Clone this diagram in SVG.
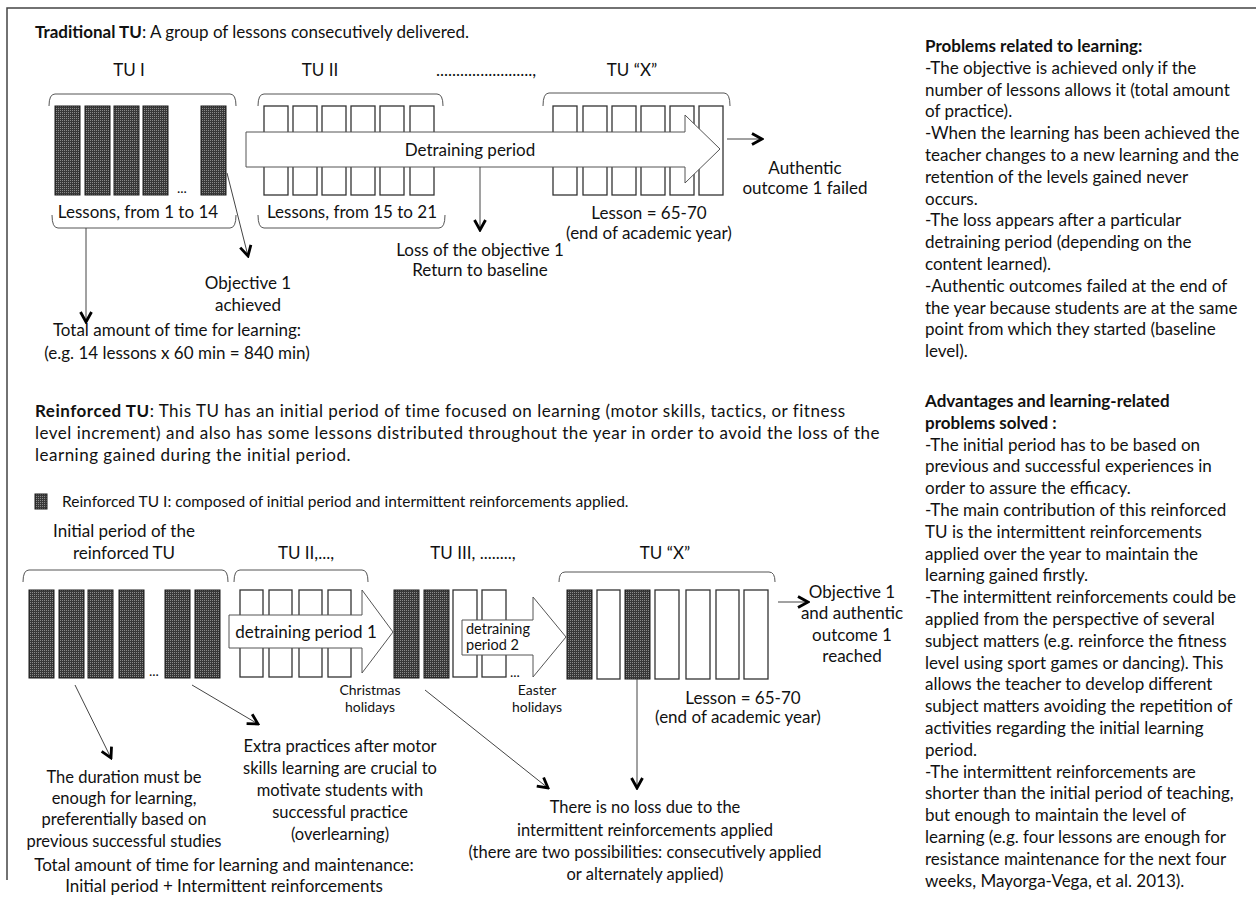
<svg xmlns="http://www.w3.org/2000/svg" width="1256" height="906" viewBox="0 0 1256 906">
<defs>
<pattern id="hatch" width="2" height="2" patternUnits="userSpaceOnUse">
<rect width="2" height="2" fill="#383838"/>
<rect width="1" height="1" fill="#8a8a8a"/>
</pattern>
<marker id="chev" viewBox="0 0 14 14" refX="12" refY="7" markerWidth="14" markerHeight="14" markerUnits="userSpaceOnUse" orient="auto">
<path d="M2,1.5 L12,7 L2,12.5" fill="none" stroke="#000" stroke-width="2.8"/>
</marker>
<style>
text{font-family:Lato,"Liberation Sans",sans-serif;font-size:17px;fill:#111}
.c{text-anchor:middle}
.b{font-weight:bold}
.s{font-size:14px}
.m{font-size:16.5px}
.p{letter-spacing:0.5px}
.dark{fill:url(#hatch);stroke:#1a1a1a;stroke-width:1}
.white{fill:#fff;stroke:#333;stroke-width:1.3}
.brk{fill:none;stroke:#555;stroke-width:1}
.big{fill:#fff;stroke:#555;stroke-width:1}
.con{stroke:#444;stroke-width:1;fill:none;marker-end:url(#chev)}
</style>
</defs>
<rect width="1256" height="906" fill="#fff"/>
<path d="M7,880 V8 H1256" fill="none" stroke="#444" stroke-width="1.5"/>

<g id="traditional-header">
<text x="35" y="38"><tspan class="b">Traditional TU</tspan>: A group of lessons consecutively delivered.</text>
</g>

<g id="tu1-top">
<text class="c" x="129" y="76">TU I</text>
<path class="brk" d="M49,106 Q49,94 55,94 H230 Q236,94 236,106"/>
<rect class="dark" x="55" y="106" width="25" height="89"/>
<rect class="dark" x="85" y="106" width="25" height="89"/>
<rect class="dark" x="114" y="106" width="25" height="89"/>
<rect class="dark" x="143" y="106" width="25" height="89"/>
<text x="177" y="193" class="s">...</text>
<rect class="dark" x="201" y="106" width="25" height="89"/>
<path class="brk" d="M52,215 Q52,228 58,228 H230 Q236,228 236,215"/>
<text class="c" x="138" y="218">Lessons, from 1 to 14</text>
</g>

<g id="tu2-top">
<text class="c" x="320" y="76">TU II</text>
<path class="brk" d="M258,106 Q258,94 264,94 H437 Q443,94 443,106"/>
<rect class="white" x="264" y="106" width="24" height="89"/>
<rect class="white" x="293" y="106" width="24" height="89"/>
<rect class="white" x="322" y="106" width="24" height="89"/>
<rect class="white" x="351" y="106" width="24" height="89"/>
<rect class="white" x="380" y="106" width="24" height="89"/>
<rect class="white" x="410" y="106" width="24" height="89"/>
<path class="brk" d="M258,215 Q258,228 264,228 H439 Q445,228 445,215"/>
<text class="c" x="352" y="218">Lessons, from 15 to 21</text>
</g>

<g id="dots-top">
<text x="436" y="76">........................,</text>
</g>

<g id="tux-top">
<text class="c" x="632" y="76">TU “X”</text>
<path class="brk" d="M543,106 Q543,93 549,93 H724 Q730,93 730,106"/>
<rect class="white" x="553" y="106" width="24" height="89"/>
<rect class="white" x="583" y="106" width="24" height="89"/>
<rect class="white" x="612" y="106" width="24" height="89"/>
<rect class="white" x="641" y="106" width="24" height="89"/>
<rect class="white" x="670" y="106" width="24" height="89"/>
<rect class="white" x="699" y="106" width="24" height="89"/>
<text class="c" x="649" y="219">Lesson = 65-70</text>
<text class="c" x="649" y="239">(end of academic year)</text>
</g>

<g id="detraining-top">
<polygon class="big" points="246,132 685,132 685,115 720,149 685,183 685,167 246,167"/>
<text class="c" x="470" y="156">Detraining period</text>
</g>

<g id="authentic-failed">
<text class="c" x="805" y="174">Authentic</text>
<text class="c" x="805" y="194">outcome 1 failed</text>
</g>

<g id="objective-achieved">
<text class="c" x="248" y="289">Objective 1</text>
<text class="c" x="248" y="311">achieved</text>
</g>

<g id="loss-objective">
<text class="c" x="480" y="256">Loss of the objective 1</text>
<text class="c" x="480" y="276">Return to baseline</text>
</g>

<g id="total-time-top">
<text class="c" x="177" y="336">Total amount of time for learning:</text>
<text class="c" x="177" y="359">(e.g. 14 lessons x 60 min = 840 min)</text>
</g>

<g id="problems">
<text x="925" y="52" class="b">Problems related to learning:</text>
<text x="925" y="73.8">-The objective is achieved only if the</text>
<text x="925" y="95.6">number of lessons allows it (total amount</text>
<text x="925" y="117.4">of practice).</text>
<text x="925" y="139.2">-When the learning has been achieved the</text>
<text x="925" y="161">teacher changes to a new learning and the</text>
<text x="925" y="182.8">retention of the levels gained never</text>
<text x="925" y="204.6">occurs.</text>
<text x="925" y="226.4">-The loss appears after a particular</text>
<text x="925" y="248.2">detraining period (depending on the</text>
<text x="925" y="270">content learned).</text>
<text x="925" y="291.8">-Authentic outcomes failed at the end of</text>
<text x="925" y="313.6">the year because students are at the same</text>
<text x="925" y="335.4">point from which they started (baseline</text>
<text x="925" y="357.2">level).</text>
</g>

<g id="advantages">
<text x="925" y="407" class="b">Advantages and learning-related</text>
<text x="925" y="428.8" class="b">problems solved :</text>
<text x="925" y="450.6">-The initial period has to be based on</text>
<text x="925" y="472.4">previous and successful experiences in</text>
<text x="925" y="494.2">order to assure the efficacy.</text>
<text x="925" y="516">-The main contribution of this reinforced</text>
<text x="925" y="537.8">TU is the intermittent reinforcements</text>
<text x="925" y="559.6">applied over the year to maintain the</text>
<text x="925" y="581.4">learning gained firstly.</text>
<text x="925" y="603.2">-The intermittent reinforcements could be</text>
<text x="925" y="625">applied from the perspective of several</text>
<text x="925" y="646.8">subject matters (e.g. reinforce the fitness</text>
<text x="925" y="668.6">level using sport games or dancing). This</text>
<text x="925" y="690.4">allows the teacher to develop different</text>
<text x="925" y="712.2">subject matters avoiding the repetition of</text>
<text x="925" y="734">activities regarding the initial learning</text>
<text x="925" y="755.8">period.</text>
<text x="925" y="777.6">-The intermittent reinforcements are</text>
<text x="925" y="799.4">shorter than the initial period of teaching,</text>
<text x="925" y="821.2">but enough to maintain the level of</text>
<text x="925" y="843">learning (e.g. four lessons are enough for</text>
<text x="925" y="864.8">resistance maintenance for the next four</text>
<text x="925" y="886.6">weeks, Mayorga-Vega, et al. 2013).</text>
</g>

<g id="reinforced-header">
<text class="p" x="35" y="417"><tspan class="b">Reinforced TU</tspan>: This TU has an initial period of time focused on learning (motor skills, tactics, or fitness</text>
<text class="p" x="35" y="439">level increment) and also has some lessons distributed throughout the year in order to avoid the loss of the</text>
<text class="p" x="35" y="461">learning gained during the initial period.</text>
</g>

<g id="legend">
<rect class="dark" x="35" y="494" width="12" height="15"/>
<text x="62" y="507" style="font-size:15.5px">Reinforced TU I: composed of initial period and intermittent reinforcements applied.</text>
</g>

<g id="initial-period">
<text class="c" x="124" y="537">Initial period of the</text>
<text class="c" x="124" y="559">reinforced TU</text>
<path class="brk" d="M23,582 Q23,570 29,570 H222 Q228,570 228,582"/>
<rect class="dark" x="29" y="590" width="25" height="88"/>
<rect class="dark" x="59" y="590" width="25" height="88"/>
<rect class="dark" x="88" y="590" width="25" height="88"/>
<rect class="dark" x="119" y="590" width="25" height="88"/>
<text x="149" y="676" class="s">...</text>
<rect class="dark" x="165" y="590" width="25" height="88"/>
<rect class="dark" x="195" y="590" width="25" height="88"/>
</g>

<g id="tu2-bottom">
<text class="c" x="306" y="559">TU II,...,</text>
<path class="brk" d="M234,582 Q234,570 240,570 H362 Q368,570 368,582"/>
<rect class="white" x="240" y="590" width="23" height="87"/>
<rect class="white" x="269" y="590" width="23" height="87"/>
<rect class="white" x="299" y="590" width="23" height="87"/>
<rect class="white" x="328" y="590" width="23" height="87"/>
</g>

<g id="detraining-1">
<polygon class="big" points="229,615 362,615 362,590 393,632 362,673 362,648 229,648"/>
<text class="c" x="306" y="638">detraining period 1</text>
</g>

<g id="christmas">
<text class="c s" x="370" y="695">Christmas</text>
<text class="c s" x="370" y="712">holidays</text>
</g>

<g id="tu3-bottom">
<text class="c" x="473" y="559">TU III, ........,</text>
<rect class="dark" x="394" y="590" width="25" height="88"/>
<rect class="dark" x="424" y="590" width="25" height="88"/>
<rect class="white" x="453" y="590" width="24" height="87"/>
<rect class="white" x="482" y="590" width="24" height="87"/>
<text x="510" y="677" class="s">...</text>
</g>

<g id="detraining-2">
<polygon class="big" points="462,620 533,620 533,597 566,637 533,677 533,655 462,655"/>
<text x="466" y="634" style="font-size:14.5px">detraining</text>
<text x="466" y="650" style="font-size:14.5px">period 2</text>
</g>

<g id="easter">
<text class="c s" x="537" y="695">Easter</text>
<text class="c s" x="537" y="712">holidays</text>
</g>

<g id="tux-bottom">
<text class="c" x="665" y="559">TU “X”</text>
<path class="brk" d="M559,582 Q559,572 565,572 H769 Q775,572 775,582"/>
<rect class="dark" x="567" y="590" width="25" height="89"/>
<rect class="white" x="597" y="590" width="23" height="89"/>
<rect class="dark" x="625" y="590" width="25" height="89"/>
<rect class="white" x="655" y="590" width="24" height="89"/>
<rect class="white" x="686" y="590" width="24" height="89"/>
<rect class="white" x="716" y="590" width="23" height="89"/>
<rect class="white" x="744" y="590" width="24" height="89"/>
<text class="c" x="743" y="704">Lesson = 65-70</text>
<text class="c" x="738" y="723">(end of academic year)</text>
</g>

<g id="objective-reached">
<text class="c" x="852" y="598">Objective 1</text>
<text class="c" x="852" y="619">and authentic</text>
<text class="c" x="852" y="641">outcome 1</text>
<text class="c" x="852" y="662">reached</text>
</g>

<g id="duration">
<text class="c m" x="124" y="783">The duration must be</text>
<text class="c m" x="124" y="804">enough for learning,</text>
<text class="c m" x="124" y="825">preferentially based on</text>
<text class="c m" x="124" y="847">previous successful studies</text>
</g>

<g id="extra-practices">
<text class="c m" x="340" y="752">Extra practices after motor</text>
<text class="c m" x="340" y="774">skills learning are crucial to</text>
<text class="c m" x="340" y="796">motivate students with</text>
<text class="c m" x="340" y="818">successful practice</text>
<text class="c m" x="340" y="840">(overlearning)</text>
</g>

<g id="no-loss">
<text class="c m" x="645" y="813">There is no loss due to the</text>
<text class="c m" x="645" y="836">intermittent reinforcements applied</text>
<text class="c m" x="645" y="858">(there are two possibilities: consecutively applied</text>
<text class="c m" x="645" y="880">or alternately applied)</text>
</g>

<g id="total-time-bottom">
<text class="c" x="224" y="871">Total amount of time for learning and maintenance:</text>
<text class="c" x="224" y="892">Initial period + Intermittent reinforcements</text>
</g>

<g id="connectors">
<line class="con" x1="727" y1="139" x2="762" y2="139"/>
<line class="con" x1="86" y1="228" x2="86" y2="322"/>
<line class="con" x1="227" y1="173" x2="248" y2="256"/>
<line class="con" x1="480" y1="167" x2="480" y2="230"/>
<line class="con" x1="778" y1="602" x2="808" y2="602"/>
<line class="con" x1="75" y1="685" x2="111" y2="758"/>
<line class="con" x1="192" y1="685" x2="258" y2="724"/>
<line class="con" x1="425" y1="690" x2="548" y2="788"/>
<line class="con" x1="637" y1="679" x2="637" y2="788"/>
</g>
</svg>
